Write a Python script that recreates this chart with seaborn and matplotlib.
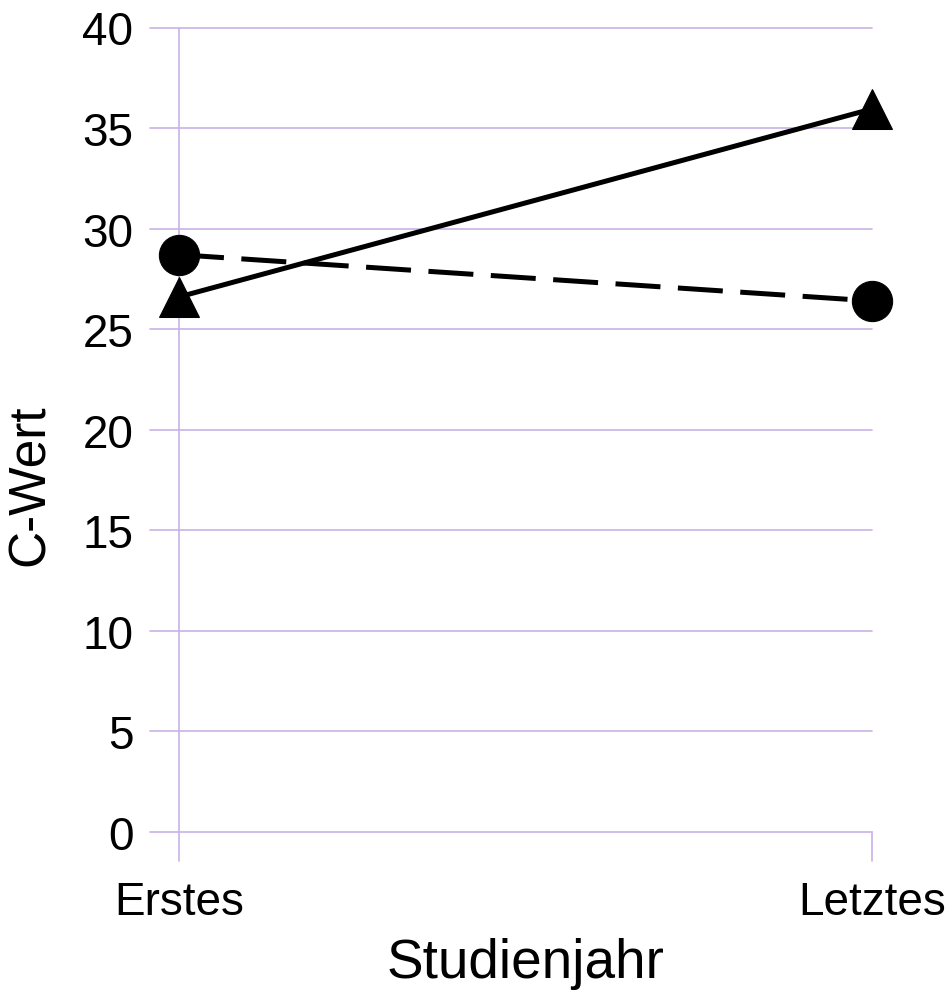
import matplotlib
matplotlib.use("Agg")
import matplotlib.pyplot as plt
import seaborn as sns
import pandas as pd

# Data
categories = ["Erstes", "Letztes"]
series_names = ["Dreieck", "Kreis"]
values_triangle = [26.6, 35.95]
values_circle = [28.7, 26.4]
y_ticks = [0, 5, 10, 15, 20, 25, 30, 35, 40]

df = pd.DataFrame({
    "Studienjahr": categories * 2,
    "C-Wert": values_triangle + values_circle,
    "Gruppe": [series_names[0]] * 2 + [series_names[1]] * 2,
})

sns.set_style("white")
plt.rcParams["font.family"] = ["Liberation Sans", "DejaVu Sans"]
plt.rcParams["text.color"] = "black"
plt.rcParams["axes.labelcolor"] = "black"

W, H = 952, 1003
fig = plt.figure(figsize=(W / 100, H / 100), dpi=100)
ax_left, ax_right = 150, 872
ax_top, ax_bottom = 28.5, 832.7
ax = fig.add_axes([ax_left / W, (H - ax_bottom) / H,
                   (ax_right - ax_left) / W, (ax_bottom - ax_top) / H])

grid_col = "#c9b2e6"

sns.lineplot(data=df, x="Studienjahr", y="C-Wert", style="Gruppe",
             markers={"Dreieck": "^", "Kreis": "o"},
             dashes={"Dreieck": "", "Kreis": (9, 3.5)},
             color="black", linewidth=3.6, markersize=29,
             markeredgecolor="black", legend=False, ax=ax, zorder=5)
for ln in ax.lines:
    ln.set_clip_on(False)

ax.set_ylim(0, 40)
ax.set_xlim(-29 / 693, 1.0)
ax.set_yticks(y_ticks)
ax.set_xticks([0, 1])
ax.set_xticklabels(categories)

for s in ax.spines.values():
    s.set_visible(False)

ax.grid(False)
for yv in y_ticks:
    ax.axhline(yv, color=grid_col, linewidth=1.2, clip_on=False, zorder=0)
tick_ext = 29 / (ax_bottom - ax_top)
ax.axvline(0, ymin=-tick_ext, ymax=1, color=grid_col, linewidth=1.2,
           clip_on=False, zorder=0)
ax.axvline(1, ymin=-tick_ext, ymax=0, color=grid_col, linewidth=1.2,
           clip_on=False, zorder=0)

ax.tick_params(axis="y", length=0, pad=12, labelsize=33, colors="black")
ax.tick_params(axis="x", length=20.9, width=0, pad=14, labelsize=33,
               labelcolor="black")

ax.set_xlabel("Studienjahr", fontsize=39.5, color="black")
ax.xaxis.set_label_coords((525.5 - ax_left) / (ax_right - ax_left),
                          -(938 - ax_bottom) / (ax_bottom - ax_top))
ax.set_ylabel("C-Wert", fontsize=37, color="black")
ax.yaxis.set_label_coords((55 - ax_left) / (ax_right - ax_left),
                          (ax_bottom - 485) / (ax_bottom - ax_top))

fig.savefig("out.png", dpi=100)
